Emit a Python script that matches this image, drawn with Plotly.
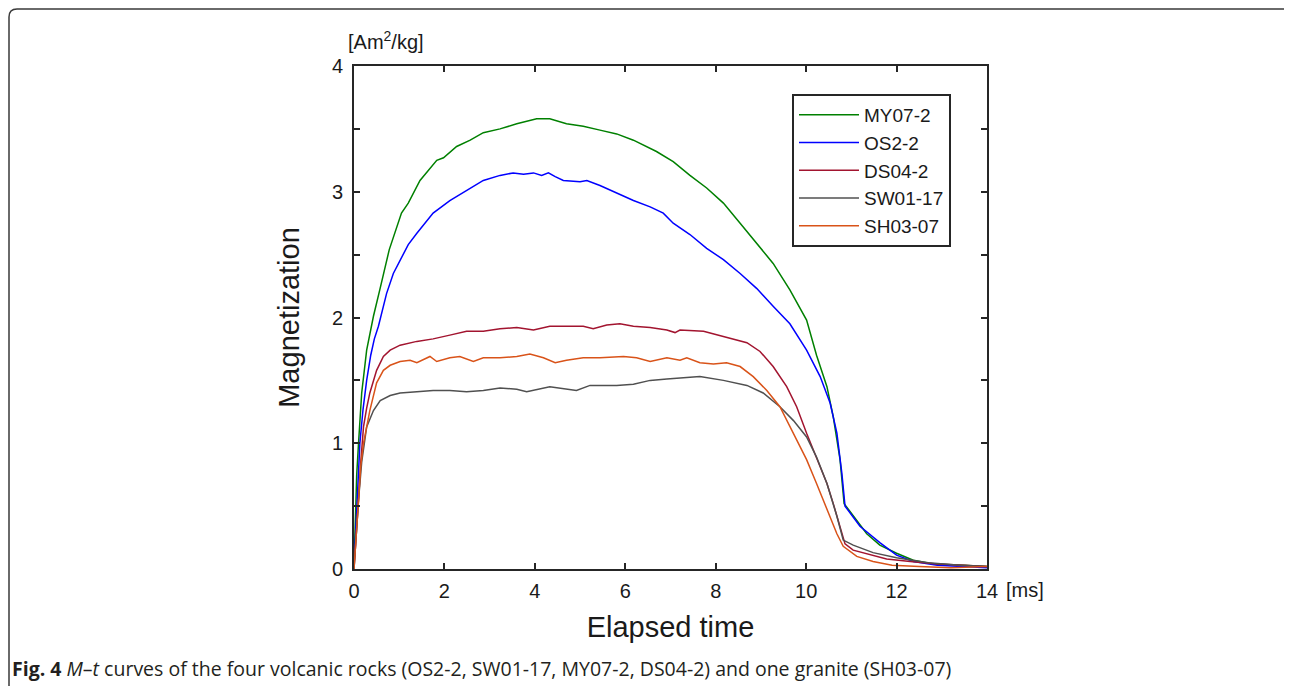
import plotly.graph_objects as go

# ---------------- data ----------------
names = ["MY07-2", "OS2-2", "DS04-2", "SW01-17", "SH03-07"]

t_my07 = [0, 0.03, 0.06, 0.10, 0.17, 0.28, 0.43, 0.57, 0.78, 1.05, 1.20, 1.46, 1.83, 1.98,
          2.27, 2.57, 2.86, 3.23, 3.60, 4.04, 4.33, 4.70, 5.07, 5.44, 5.81, 6.18, 6.33, 6.69,
          7.06, 7.43, 7.80, 8.17, 8.54, 8.91, 9.27, 9.64, 10.01, 10.23, 10.46, 10.60, 10.75,
          10.84, 11.04, 11.34, 11.63, 12.0, 12.37, 12.81, 13.47, 14.0]
m_my07 = [0.02, 0.45, 0.75, 1.00, 1.40, 1.74, 2.01, 2.22, 2.54, 2.83, 2.91, 3.09, 3.25, 3.27,
          3.36, 3.41, 3.47, 3.50, 3.54, 3.58, 3.58, 3.54, 3.52, 3.49, 3.46, 3.41, 3.385, 3.32,
          3.24, 3.13, 3.03, 2.91, 2.75, 2.59, 2.43, 2.22, 1.98, 1.70, 1.45, 1.21, 0.87,
          0.52, 0.42, 0.28, 0.19, 0.125, 0.07, 0.04, 0.03, 0.02]

t_os2 = [0, 0.04, 0.08, 0.13, 0.20, 0.28, 0.37, 0.45, 0.54, 0.72, 0.87, 1.02, 1.20, 1.39,
         1.75, 2.12, 2.49, 2.86, 3.23, 3.52, 3.75, 3.97, 4.15, 4.30, 4.45, 4.63, 5.0, 5.15,
         5.44, 5.81, 6.18, 6.55, 6.84, 7.06, 7.43, 7.80, 8.17, 8.54, 8.91, 9.27, 9.64, 10.01,
         10.31, 10.53, 10.68, 10.79, 10.86, 11.19, 11.63, 12.0, 12.37, 12.9, 13.5, 14.0]
m_os2 = [0.02, 0.35, 0.68, 1.00, 1.27, 1.50, 1.70, 1.83, 1.93, 2.19, 2.35, 2.46, 2.58, 2.67,
         2.83, 2.93, 3.01, 3.09, 3.13, 3.15, 3.14, 3.15, 3.13, 3.15, 3.12, 3.09, 3.08, 3.09,
         3.05, 2.99, 2.93, 2.88, 2.83, 2.75, 2.66, 2.55, 2.46, 2.35, 2.23, 2.09, 1.95, 1.74,
         1.53, 1.32, 1.08, 0.76, 0.50, 0.34, 0.21, 0.11, 0.06, 0.03, 0.02, 0.01]

t_ds04 = [0, 0.05, 0.10, 0.15, 0.21, 0.28, 0.35, 0.50, 0.65, 0.80, 1.02, 1.39, 1.75, 2.12,
          2.49, 2.86, 3.23, 3.60, 3.97, 4.33, 4.63, 5.07, 5.29, 5.59, 5.88, 6.18, 6.55, 6.92,
          7.10, 7.21, 7.73, 8.17, 8.69, 8.98, 9.27, 9.57, 9.79, 10.01, 10.23, 10.46, 10.60,
          10.75, 10.86, 11.04, 11.34, 11.78, 12.3, 12.9, 13.5, 14.0]
m_ds04 = [0.0, 0.25, 0.55, 0.85, 1.13, 1.28, 1.40, 1.58, 1.69, 1.74, 1.78, 1.81, 1.83, 1.86,
          1.89, 1.89, 1.91, 1.92, 1.90, 1.93, 1.93, 1.93, 1.91, 1.94, 1.95, 1.93, 1.92, 1.90,
          1.88, 1.90, 1.89, 1.85, 1.80, 1.73, 1.61, 1.45, 1.29, 1.08, 0.89, 0.68, 0.52,
          0.34, 0.20, 0.15, 0.12, 0.08, 0.06, 0.04, 0.03, 0.02]

t_sw01 = [0, 0.05, 0.10, 0.17, 0.28, 0.43, 0.58, 0.80, 1.02, 1.39, 1.75, 2.12, 2.49, 2.86,
          3.23, 3.60, 3.82, 4.33, 4.70, 4.92, 5.22, 5.81, 6.18, 6.55, 6.92, 7.21, 7.65, 8.17,
          8.69, 9.05, 9.42, 9.72, 10.01, 10.23, 10.46, 10.68, 10.82, 11.04, 11.48, 12.0, 12.7,
          13.4, 14.0]
m_sw01 = [0.0, 0.28, 0.55, 0.85, 1.13, 1.26, 1.34, 1.38, 1.40, 1.41, 1.42, 1.42, 1.41, 1.42,
          1.44, 1.43, 1.41, 1.45, 1.43, 1.42, 1.46, 1.46, 1.47, 1.50, 1.51, 1.52, 1.53, 1.50,
          1.46, 1.40, 1.29, 1.18, 1.05, 0.89, 0.68, 0.42, 0.23, 0.19, 0.13, 0.09, 0.05,
          0.03, 0.02]

t_sh03 = [0, 0.05, 0.10, 0.15, 0.21, 0.35, 0.50, 0.65, 0.80, 1.02, 1.24, 1.39, 1.68, 1.83,
          2.12, 2.34, 2.64, 2.86, 3.23, 3.60, 3.89, 4.19, 4.45, 4.70, 5.07, 5.44, 5.96, 6.25,
          6.55, 6.92, 7.21, 7.36, 7.65, 7.95, 8.24, 8.54, 8.83, 9.13, 9.42, 9.72, 10.01, 10.23,
          10.46, 10.68, 10.82, 11.12, 11.48, 11.9, 12.5, 13.2, 14.0]
m_sh03 = [0.0, 0.30, 0.60, 0.82, 1.00, 1.26, 1.48, 1.58, 1.62, 1.65, 1.66, 1.64, 1.69, 1.65,
          1.68, 1.69, 1.65, 1.68, 1.68, 1.69, 1.71, 1.68, 1.64, 1.66, 1.68, 1.68, 1.69, 1.68,
          1.65, 1.68, 1.66, 1.68, 1.64, 1.63, 1.64, 1.61, 1.53, 1.42, 1.29, 1.08, 0.87, 0.68,
          0.47, 0.28, 0.18, 0.10, 0.06, 0.03, 0.02, 0.01, 0.02]

times = [t_my07, t_os2, t_ds04, t_sw01, t_sh03]
values = [m_my07, m_os2, m_ds04, m_sw01, m_sh03]
colors = ["#008000", "#0000FF", "#A2142F", "#505050", "#D95319"]

x_ticks = [0, 2, 4, 6, 8, 10, 12, 14]
y_ticks = [0, 1, 2, 3, 4]

caption = ("<b>Fig. 4</b> <i>M</i>–<i>t</i> curves of the four volcanic rocks "
           "(OS2-2, SW01-17, MY07-2, DS04-2) and one granite (SH03-07)")

# ---------------- figure ----------------
OFF = 8                      # default page body margin
W, H = 1292 - OFF, 686 - OFF
L = 354 - OFF
T = 66 - OFF
R = W - (987 - OFF)
B = H - (569 - OFF)
pw, ph = W - L - R, H - T - B


def px(x):
    """screen x (reference pixels) -> paper coordinate"""
    return (x - OFF - L) / pw


def py(y):
    """screen y (reference pixels) -> paper coordinate"""
    return (H - B - (y - OFF)) / ph


fig = go.Figure()
for name, tt, mm, c in zip(names, times, values, colors):
    fig.add_trace(go.Scatter(x=tt, y=mm, mode="lines", name=name, legendgroup=name,
                             line=dict(color=c, width=1.5)))

axis_col = "#262626"
font_main = "Liberation Sans, Arial, sans-serif"

fig.update_layout(
    width=W, height=H,
    margin=dict(l=L, r=R, t=T, b=B, autoexpand=False),
    paper_bgcolor="white", plot_bgcolor="white",
    font=dict(family=font_main, size=20, color="#1a1a1a"),
    showlegend=True,
    legend=dict(x=px(792), y=py(94), xanchor="left", yanchor="top",
                bordercolor=axis_col, borderwidth=2, bgcolor="white",
                font=dict(family=font_main, size=19, color="#1a1a1a"),
                tracegroupgap=0, itemwidth=60),
    xaxis=dict(range=[0, 14], tickvals=x_ticks, ticks="inside", ticklen=6, tickwidth=2,
               tickcolor=axis_col, showline=True, linecolor=axis_col, linewidth=2,
               mirror="ticks", showgrid=False, zeroline=False,
               tickfont=dict(size=20), ticklabelstandoff=3,
               title=dict(text="Elapsed time", font=dict(size=29), standoff=16)),
    yaxis=dict(range=[0, 4], tickvals=y_ticks, ticks="inside", ticklen=6, tickwidth=2,
               tickcolor=axis_col, showline=True, linecolor=axis_col, linewidth=2,
               mirror="ticks", showgrid=False, zeroline=False,
               minor=dict(dtick=0.5, ticks="inside", ticklen=6, tickwidth=2,
                          tickcolor=axis_col, showgrid=False),
               tickfont=dict(size=20), ticklabelstandoff=5,
               title=dict(text="Magnetization", font=dict(size=29), standoff=24)),
)

# unit labels
fig.add_annotation(text="[ms]", xref="paper", yref="paper", x=px(1004), y=py(590),
                   xanchor="left", yanchor="middle", showarrow=False,
                   font=dict(size=20))
fig.add_annotation(text="[Am<sup>2</sup>/kg]", xref="paper", yref="paper", x=px(346),
                   y=py(40), xanchor="left", yanchor="middle", showarrow=False,
                   font=dict(size=20))

# caption
fig.add_annotation(text=caption, xref="paper", yref="paper", x=px(10), y=py(668),
                   xanchor="left", yanchor="middle", showarrow=False,
                   font=dict(family="Open Sans, Noto Sans, sans-serif", size=19.5,
                             color="#231f20"))

# outer rounded frame
x0, x1 = px(9), px(1291)
yt, yb = py(9), py(700)
rx, ry = 8 / pw, 8 / ph
path = (f"M {x0},{yb} L {x0},{yt - ry} Q {x0},{yt} {x0 + rx},{yt} "
        f"L {x1 - rx},{yt} Q {x1},{yt} {x1},{yt - ry} L {x1},{yb}")
fig.add_shape(type="path", path=path, xref="paper", yref="paper",
              line=dict(color="#3a3a3a", width=1.5), layer="below")

fig.write_html("out.html")
